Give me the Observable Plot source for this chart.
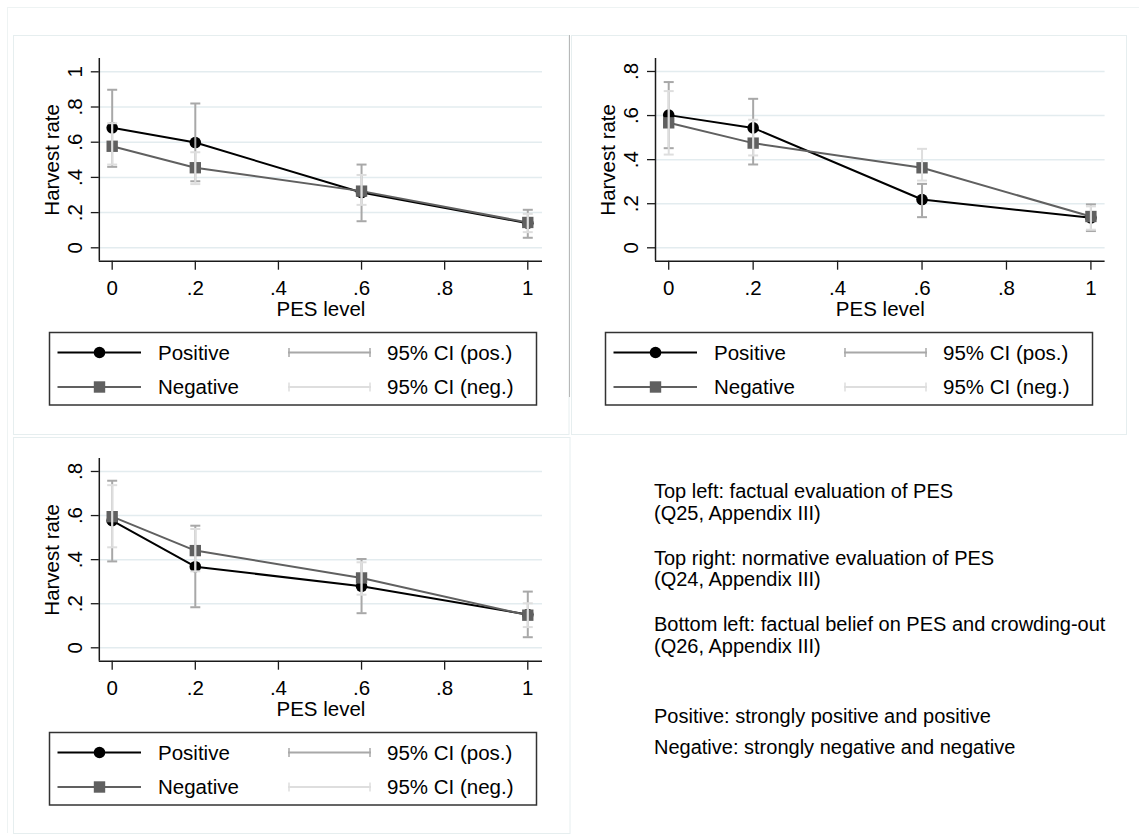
<!DOCTYPE html>
<html><head><meta charset="utf-8">
<script src="https://cdn.jsdelivr.net/npm/d3@7"></script>
<script src="https://cdn.jsdelivr.net/npm/@observablehq/plot@0.6"></script>
<style>
html,body{margin:0;padding:0;background:#fff;}
#root{position:relative;width:1146px;height:836px;overflow:hidden;font-family:"Liberation Sans",Arial,sans-serif;}
#root > svg{position:absolute;}
</style></head><body><div id="root"></div>
<script>
// ---------- data ----------
const pesLevels = [0, 0.2, 0.6, 1];
const xTicks = [0, 0.2, 0.4, 0.6, 0.8, 1];
const yTicksTopLeft = [0, 0.2, 0.4, 0.6, 0.8, 1];
const yTicksOther = [0, 0.2, 0.4, 0.6, 0.8];
const seriesNames = ["Positive", "Negative"];
const ciNames = ["95% CI (pos.)", "95% CI (neg.)"];
const xLabel = "PES level";
const yLabel = "Harvest rate";

// Top left: factual evaluation of PES
const tlPosMean = [0.682, 0.598, 0.314, 0.140];
const tlPosLo   = [0.460, 0.378, 0.151, 0.057];
const tlPosHi   = [0.898, 0.820, 0.473, 0.216];
const tlNegMean = [0.577, 0.455, 0.322, 0.144];
const tlNegLo   = [0.473, 0.362, 0.244, 0.089];
const tlNegHi   = [0.708, 0.543, 0.414, 0.193];

// Top right: normative evaluation of PES
const trPosMean = [0.602, 0.544, 0.219, 0.136];
const trPosLo   = [0.452, 0.378, 0.139, 0.076];
const trPosHi   = [0.752, 0.676, 0.290, 0.197];
const trNegMean = [0.567, 0.475, 0.363, 0.142];
const trNegLo   = [0.423, 0.419, 0.305, 0.082];
const trNegHi   = [0.711, 0.581, 0.449, 0.188];

// Bottom left: factual belief on PES and crowding-out
const blPosMean = [0.577, 0.368, 0.279, 0.151];
const blPosLo   = [0.392, 0.184, 0.157, 0.048];
const blPosHi   = [0.758, 0.554, 0.403, 0.255];
const blNegMean = [0.595, 0.441, 0.317, 0.148];
const blNegLo   = [0.456, 0.347, 0.241, 0.094];
const blNegHi   = [0.738, 0.539, 0.388, 0.202];

const notes = [
  ["Top left: factual evaluation of PES", "(Q25, Appendix III)"],
  ["Top right: normative evaluation of PES", "(Q24, Appendix III)"],
  ["Bottom left: factual belief on PES and crowding-out", "(Q26, Appendix III)"],
  ["Positive: strongly positive and positive"],
  ["Negative: strongly negative and negative"]
];

// ---------- styles ----------
const FONT = '"Liberation Sans", Arial, sans-serif';
const FS = 20.5;
const GRID = "#e3ecef";
const AXIS = "#1a1a1a";
const NEG = "#606060";
const CIPOS = "#a8a8a8";
const CINEG = "#dedede";
const BORDER = "#e6eeef";

const fmt = d => d === 0 ? "0" : d === 1 ? "1" : String(+d.toFixed(2)).replace(/^0\./, ".");
const capSymbol = {draw(ctx, size) { const w = Math.sqrt(size / Math.PI); ctx.moveTo(-w, 0); ctx.lineTo(w, 0); }};

const root = document.getElementById("root");

// background overlay: borders, legends, notes
const ov = d3.select(root).append("svg").attr("width", 1146).attr("height", 836).style("left", "0px").style("top", "0px");
ov.append("line").attr("x1", 7).attr("x2", 1139).attr("y1", 7.5).attr("y2", 7.5).attr("stroke", "#eef3f3");
ov.append("line").attr("x1", 7.5).attr("x2", 7.5).attr("y1", 7).attr("y2", 833).attr("stroke", "#eef3f3");
ov.append("rect").attr("x", 13.5).attr("y", 35.5).attr("width", 555.5).attr("height", 399).attr("fill", "none").attr("stroke", BORDER);
ov.append("rect").attr("x", 571.5).attr("y", 35.5).attr("width", 555).attr("height", 399).attr("fill", "none").attr("stroke", BORDER);
ov.append("rect").attr("x", 13.5).attr("y", 437.5).attr("width", 556.5).attr("height", 396).attr("fill", "none").attr("stroke", BORDER);
ov.append("line").attr("x1", 569.5).attr("x2", 569.5).attr("y1", 35).attr("y2", 397).attr("stroke", "#b8b8b8");

function legend(ox, oy) {
  const g = ov.append("g").attr("transform", `translate(${ox},${oy})`).style("font-family", FONT).style("font-size", FS + "px");
  g.append("rect").attr("x", 49.5).attr("y", 332.5).attr("width", 487).attr("height", 72.5).attr("fill", "#fff").attr("stroke", "#333").attr("stroke-width", 1.5);
  const rows = [352.5, 387];
  g.append("line").attr("x1", 57.5).attr("x2", 141).attr("y1", rows[0]).attr("y2", rows[0]).attr("stroke", "#000").attr("stroke-width", 2);
  g.append("circle").attr("cx", 99.5).attr("cy", rows[0]).attr("r", 5.8).attr("fill", "#000");
  g.append("line").attr("x1", 57.5).attr("x2", 141).attr("y1", rows[1]).attr("y2", rows[1]).attr("stroke", NEG).attr("stroke-width", 2);
  g.append("rect").attr("x", 99.5 - 5.7).attr("y", rows[1] - 5.7).attr("width", 11.4).attr("height", 11.4).attr("fill", NEG);
  const ciCols = [CIPOS, CINEG];
  rows.forEach((y, i) => {
    g.append("text").attr("x", 158).attr("y", y + 7.4).text(seriesNames[i]);
    g.append("line").attr("x1", 288).attr("x2", 371).attr("y1", y).attr("y2", y).attr("stroke", ciCols[i]).attr("stroke-width", 2);
    g.append("line").attr("x1", 289).attr("x2", 289).attr("y1", y - 4.5).attr("y2", y + 4.5).attr("stroke", ciCols[i]).attr("stroke-width", 1.5);
    g.append("line").attr("x1", 370).attr("x2", 370).attr("y1", y - 4.5).attr("y2", y + 4.5).attr("stroke", ciCols[i]).attr("stroke-width", 1.5);
    g.append("text").attr("x", 387).attr("y", y + 7.4).text(ciNames[i]);
  });
}
legend(0, 0);
legend(556, 0);
legend(0, 400);

const nt = ov.append("g").style("font-family", FONT).style("font-size", "20px");
const paraTop = [497.8, 564.5, 631.2, 722.5, 754.2];
notes.forEach((lines, p) => lines.forEach((t, k) => nt.append("text").attr("x", 654).attr("y", paraTop[p] + k * 21.7).text(t)));

// ---------- panels ----------
function panel(opts) {
  const rows = pesLevels.map((x, i) => ({
    x, pm: opts.pm[i], pl: opts.pl[i], ph: opts.ph[i], nm: opts.nm[i], nl: opts.nl[i], nh: opts.nh[i]
  }));
  const chart = Plot.plot({
    width: 556, height: 290,
    marginLeft: opts.ml, marginRight: opts.mr, marginTop: 23, marginBottom: 64.3,
    style: {fontFamily: FONT, fontSize: FS + "px", background: "transparent", color: "#000", overflow: "visible"},
    x: {domain: opts.xDomain},
    y: {domain: opts.yDomain},
    marks: [
      Plot.gridY(opts.yTicks, {stroke: GRID, strokeOpacity: 1, strokeWidth: 1.5}),
      Plot.axisY(opts.yTicks, {tickFormat: fmt, tickRotate: -90, tickSize: 8, tickPadding: 9.5, label: null, fontSize: FS, stroke: AXIS, strokeWidth: 1.3}),
      Plot.axisX(xTicks, {tickFormat: fmt, tickSize: 9, tickPadding: 10.5, label: null, fontSize: FS, stroke: AXIS, strokeWidth: 1.3}),
      Plot.ruleY([opts.yDomain[0]], {stroke: AXIS, strokeWidth: 1.5}),
      Plot.ruleX([opts.xDomain[0]], {stroke: AXIS, strokeWidth: 1.5}),
      Plot.text([xLabel], {text: d => d, frameAnchor: "bottom", textAnchor: "middle", dy: 48, lineAnchor: "middle", fontSize: FS}),
      Plot.text([yLabel], {text: d => d, frameAnchor: "left", textAnchor: "middle", dx: -46.8, rotate: -90, lineAnchor: "middle", fontSize: FS}),
      Plot.line(rows, {x: "x", y: "pm", stroke: "#000", strokeWidth: 2}),
      Plot.line(rows, {x: "x", y: "nm", stroke: NEG, strokeWidth: 2}),
      Plot.dot(rows, {x: "x", y: "pm", r: 5.8, fill: "#000", symbol: "circle"}),
      Plot.dot(rows, {x: "x", y: "nm", r: 6.4, fill: NEG, symbol: "square"}),
      Plot.ruleX(rows, {x: "x", y1: "pl", y2: "ph", stroke: CIPOS, strokeWidth: 2}),
      Plot.dot(rows, {x: "x", y: "pl", symbol: capSymbol, r: 5, stroke: CIPOS, strokeWidth: 2, fill: "none"}),
      Plot.dot(rows, {x: "x", y: "ph", symbol: capSymbol, r: 5, stroke: CIPOS, strokeWidth: 2, fill: "none"}),
      Plot.ruleX(rows, {x: "x", y1: "nl", y2: "nh", stroke: CINEG, strokeWidth: 2}),
      Plot.dot(rows, {x: "x", y: "nl", symbol: capSymbol, r: 5, stroke: CINEG, strokeWidth: 2, fill: "none"}),
      Plot.dot(rows, {x: "x", y: "nh", symbol: capSymbol, r: 5, stroke: CINEG, strokeWidth: 2, fill: "none"})
    ]
  });
  chart.style.position = "absolute";
  chart.style.left = opts.left + "px";
  chart.style.top = opts.top + "px";
  root.appendChild(chart);
}

panel({left: 13, top: 35, ml: 85.8, mr: 27, xDomain: [-0.031, 1.0354], yDomain: [-0.0761, 1.0756], yTicks: yTicksTopLeft,
  pm: tlPosMean, pl: tlPosLo, ph: tlPosHi, nm: tlNegMean, nl: tlNegLo, nh: tlNegHi});
panel({left: 571, top: 35, ml: 84, mr: 22.4, xDomain: [-0.0313, 1.0336], yDomain: [-0.0608, 0.8589], yTicks: yTicksOther,
  pm: trPosMean, pl: trPosLo, ph: trPosHi, nm: trNegMean, nl: trNegLo, nh: trNegHi});
panel({left: 13, top: 435, ml: 85.8, mr: 27, xDomain: [-0.031, 1.0354], yDomain: [-0.0608, 0.8589], yTicks: yTicksOther,
  pm: blPosMean, pl: blPosLo, ph: blPosHi, nm: blNegMean, nl: blNegLo, nh: blNegHi});
</script>
</body></html>
